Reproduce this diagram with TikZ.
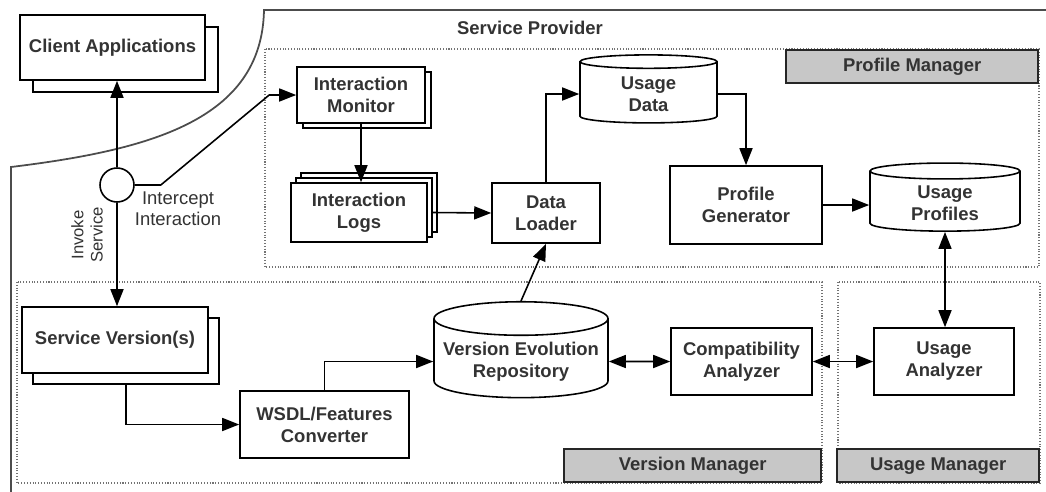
\documentclass[tikz,border=0pt]{standalone}
\usepackage{fontspec}
\setmainfont{Liberation Sans}
\usepackage{xcolor}
\usetikzlibrary{arrows.meta}
\usetikzlibrary{positioning}
\usetikzlibrary{shapes.geometric}
\usetikzlibrary{shadows}

\begin{document}
\begin{tikzpicture}
        [x=0.2mm,y=-0.2mm,
        component/.style={rectangle,draw=black,line width=0.9pt,fill=white,align=center,text=black!80,
                font=\bfseries\fontsize{10.5}{12.5}\selectfont},
        store/.style={cylinder,shape border rotate=90,aspect=0.2,draw=black,line width=0.9pt,fill=white,
                align=center,text=black!80,font=\bfseries\fontsize{10.5}{12.5}\selectfont},
        region/.style={draw=black!55,densely dotted,line width=0.6pt},
        regiontitle/.style={rectangle,draw=black!85,line width=0.9pt,fill=black!22,minimum height=6.6mm,
                text=black!80,font=\bfseries\fontsize{10.5}{12.5}\selectfont},
        note/.style={align=center,text=black!80,font=\fontsize{10.5}{12}\selectfont},
        to/.style={->,>={Triangle[length=3.4mm,width=2.6mm]},line width=0.9pt},
        fromto/.style={<->,>={Triangle[length=3.4mm,width=2.6mm]},line width=0.9pt}]

\useasboundingbox (0,0) rectangle (1046,491);

% service provider outline
\draw[line width=1pt,black!70] (1046,10) -- (264,10) .. controls (262,120) and (150,150) .. (11,167) -- (11,495);
\node[component,draw=none,fill=none] (provider) at (530,28) {Service Provider};

% managers
\draw[region] (265,49) rectangle (1039,267);
\draw[region] (17,282) rectangle (822,483);
\draw[region] (838,282) rectangle (1040,483);
\node[regiontitle,minimum width=50.4mm,anchor=north east] (pmtitle) at (1039,49) {Profile Manager};
\node[regiontitle,minimum width=51.4mm,anchor=south east] (vmtitle) at (822,483) {Version Manager};
\node[regiontitle,minimum width=40.4mm,anchor=south east] (umtitle) at (1040,483) {Usage Manager};

% components
\node[component,minimum width=37mm,minimum height=13mm,
      copy shadow={shadow xshift=2.6mm,shadow yshift=-2.4mm,draw=black,line width=0.9pt,fill=white}]
      (client) at (112.5,47.5) {Client Applications};

\node[circle,draw=black,line width=0.9pt,fill=white,minimum size=6.8mm,inner sep=0pt] (icpt) at (117,185) {};
\node[note] (icptnote) at (178,209) {Intercept\\Interaction};
\node[note,rotate=90,font=\fontsize{9.5}{11}\selectfont] (invoke) at (87,235) {Invoke\\Service};

\node[component,minimum width=25.6mm,minimum height=11.2mm,
      copy shadow={shadow xshift=1.2mm,shadow yshift=-1mm,draw=black,line width=0.9pt,fill=white}]
      (monitor) at (361,95) {Interaction\\Monitor};

\node[component,minimum width=27.2mm,minimum height=11.8mm,
      double copy shadow={shadow xshift=1mm,shadow yshift=1mm,draw=black,line width=0.9pt,fill=white}]
      (logs) at (359,212.5) {Interaction\\Logs};

\node[component,minimum width=21.6mm,minimum height=12mm] (loader) at (546,213) {Data\\Loader};

\node[store,minimum width=27.4mm,minimum height=13.6mm] (udata) at (648.5,94) {Usage\\Data};

\node[component,minimum width=30.4mm,minimum height=15.6mm] (generator) at (746,205) {Profile\\Generator};

\node[store,minimum width=30mm,minimum height=12.8mm] (uprof) at (945,203) {Usage\\Profiles};

\node[component,minimum width=37.2mm,minimum height=13.2mm,
      copy shadow={shadow xshift=2.2mm,shadow yshift=-2.2mm,draw=black,line width=0.9pt,fill=white}]
      (versions) at (115,340) {Service Version(s)};

\node[component,minimum width=33.8mm,minimum height=13.4mm] (converter) at (324.5,424.5) {WSDL/Features\\Converter};

\node[store,minimum width=34.8mm,minimum height=17.4mm] (repo) at (521,361.5) {Version Evolution\\Repository};

\node[component,minimum width=28.2mm,minimum height=13.4mm] (compat) at (741.5,361.5) {Compatibility\\Analyzer};

\node[component,minimum width=28mm,minimum height=13.4mm] (uanalyzer) at (944,361.5) {Usage\\Analyzer};

% arrows
\draw[to] (icpt.north) -- (icpt.north |- client.south);
\draw[to] (icpt.south) -- (icpt.south |- versions.north);
\draw[to] (icpt.east) -- ++(26,0) -- ([xshift=-5.4mm]monitor.west) -- (monitor.west);
\draw[to] (monitor.south) -- (monitor.south |- logs.north);
\draw[to] ([xshift=1mm]logs.east) -- (loader.west);
\draw[to] (loader.north) |- (udata.west);
\draw[to] (udata.east) -| (generator.north);
\draw[to] (generator.east) -- (generator.east -| uprof.west);
\draw[fromto] (uprof.south) -- (uprof.south |- uanalyzer.north);
\draw[to] (repo.north) -- (loader.south);
\draw[to] ([xshift=2.2mm,yshift=-2.2mm]versions.south) |- (converter.west);
\draw[to] (converter.north) |- (repo.west);
\draw[fromto] (repo.east) -- (compat.west);
\draw[fromto] (compat.east) -- (uanalyzer.west);

\end{tikzpicture}
\end{document}
